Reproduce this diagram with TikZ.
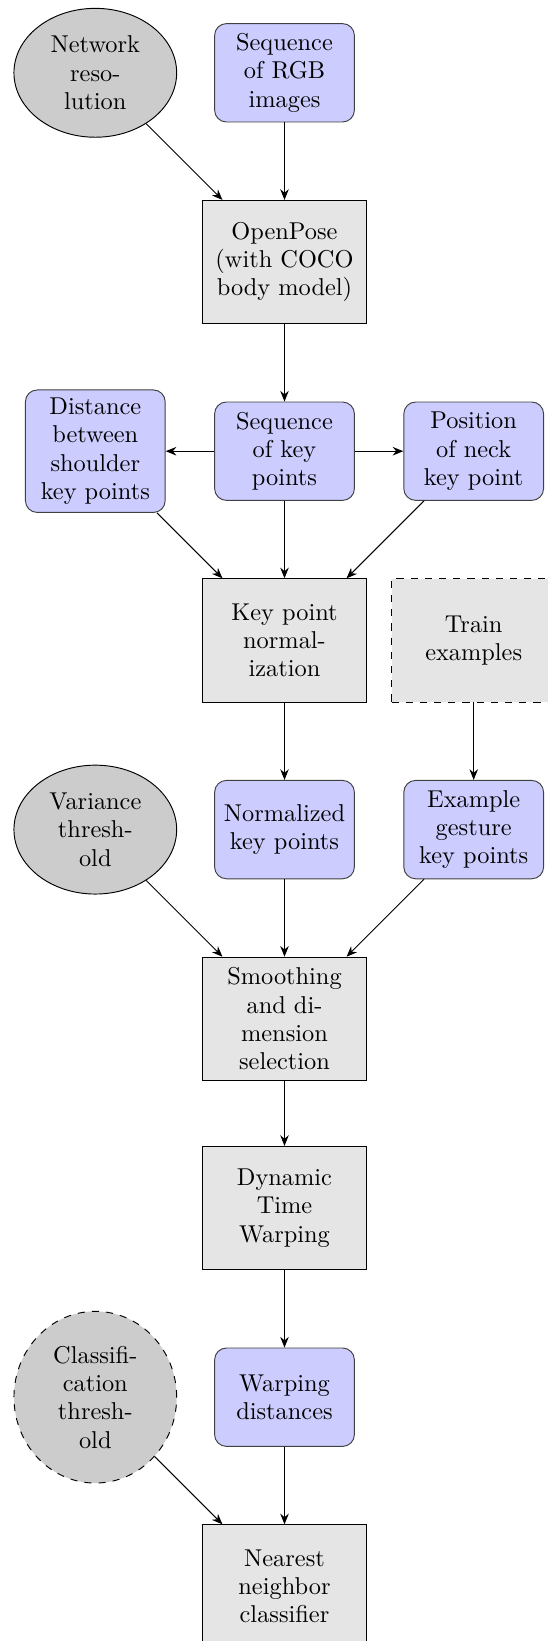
\documentclass[tikz,border=0pt]{standalone}
\usetikzlibrary{shapes.geometric,arrows.meta}
\begin{document}
\begin{tikzpicture}[x=0.42283pt,y=-0.42283pt,
  font=\fontsize{10.3pt}{12pt}\selectfont,
  procbox/.style={rectangle,draw=black,fill=black!10,minimum width=69.5pt,minimum height=52.1pt,align=center,inner sep=3.33pt},
  databox/.style={rectangle,rounded corners=5pt,draw=black!75,fill=blue!20,minimum width=59.1pt,minimum height=41.6pt,align=center,inner sep=3.33pt},
  parambox/.style={ellipse,draw=black,fill=black!20,minimum width=68.8pt,minimum height=54.5pt,align=center,inner sep=1pt},
  link/.style={-{Stealth[length=4.5pt,width=3.6pt]},black}]
\useasboundingbox (0,0) rectangle (547,1641);
% nodes
\node[parambox] (net) at (95.3,72.8) {Network\\reso-\\lution};
\node[databox] (rgb) at (284.5,72.8) {Sequence\\of RGB\\images};
\node[procbox] (op) at (284.5,262) {OpenPose\\(with COCO\\body model)};
\node[databox] (dist) at (95.3,451.2) {Distance\\between\\shoulder\\key points};
\node[databox] (seq) at (284.5,451.2) {Sequence\\of key\\points};
\node[databox] (pos) at (473.7,451.2) {Position\\of neck\\key point};
\node[procbox] (kpn) at (284.5,640.4) {Key point\\normal-\\ization};
\node[procbox,dashed] (train) at (473.7,640.4) {Train\\examples};
\node[parambox] (var) at (95.3,829.6) {Variance\\thresh-\\old};
\node[databox] (norm) at (284.5,829.6) {Normalized\\key points};
\node[databox] (ex) at (473.7,829.6) {Example\\gesture\\key points};
\node[procbox] (smooth) at (284.5,1018.8) {Smoothing\\and di-\\mension\\selection};
\node[procbox] (dtw) at (284.5,1208) {Dynamic\\Time\\Warping};
\node[parambox,dashed,minimum height=72.6pt] (cls) at (95.3,1397.2) {Classifi-\\cation\\thresh-\\old};
\node[databox] (warp) at (284.5,1397.2) {Warping\\distances};
\node[procbox] (nn) at (284.5,1586.4) {Nearest\\neighbor\\classifier};
% connectors
\draw[link] (net) -- (op);
\draw[link] (rgb) -- (op);
\draw[link] (op) -- (seq);
\draw[link] (seq) -- (dist);
\draw[link] (seq) -- (pos);
\draw[link] (dist) -- (kpn);
\draw[link] (seq) -- (kpn);
\draw[link] (pos) -- (kpn);
\draw[link] (kpn) -- (norm);
\draw[link] (train) -- (ex);
\draw[link] (var) -- (smooth);
\draw[link] (norm) -- (smooth);
\draw[link] (ex) -- (smooth);
\draw[link] (smooth) -- (dtw);
\draw[link] (dtw) -- (warp);
\draw[link] (cls) -- (nn);
\draw[link] (warp) -- (nn);
\end{tikzpicture}
\end{document}
